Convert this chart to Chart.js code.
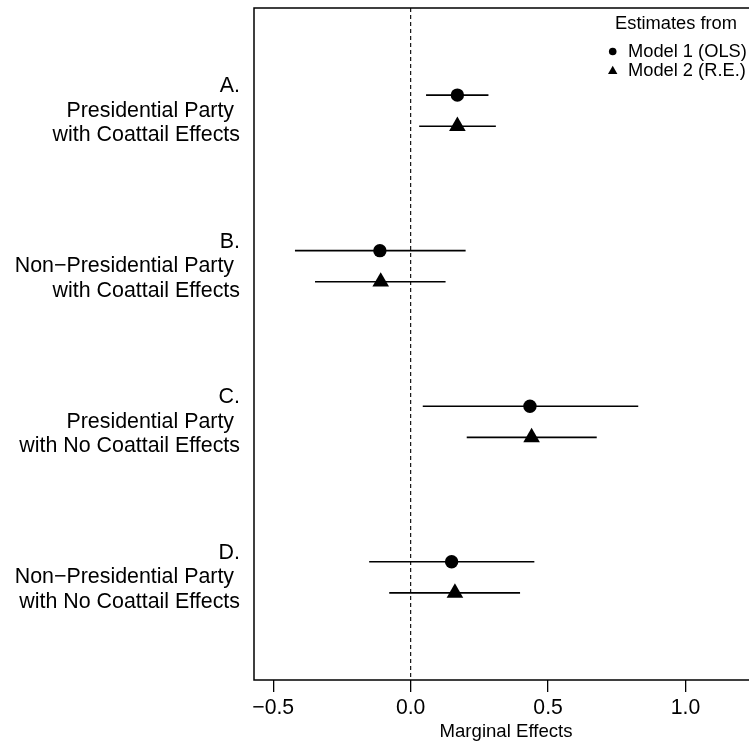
<!DOCTYPE html>
<html>
<head>
<meta charset="utf-8">
<script src="https://cdn.jsdelivr.net/npm/chart.js@4/dist/chart.umd.min.js"></script>
<style>
  html, body { margin: 0; padding: 0; background: #fff; overflow: hidden; }
  canvas { display: block; }
</style>
</head>
<body>
<canvas id="c" width="749" height="748"></canvas>
<script>
// ---- data ----
const groupLabels = [
  ["A.", "Presidential Party ", "with Coattail Effects"],
  ["B.", "Non\u2212Presidential Party ", "with Coattail Effects"],
  ["C.", "Presidential Party ", "with No Coattail Effects"],
  ["D.", "Non\u2212Presidential Party ", "with No Coattail Effects"]
];
const olsEst = [0.170, -0.112, 0.434, 0.149];
const olsLo  = [0.056, -0.421, 0.044, -0.151];
const olsHi  = [0.283, 0.200, 0.828, 0.450];
const reEst  = [0.170, -0.109, 0.440, 0.161];
const reLo   = [0.031, -0.348, 0.204, -0.078];
const reHi   = [0.310, 0.127, 0.677, 0.398];
const xTicks = [-0.5, 0.0, 0.5, 1.0];
const xTickLabels = ["\u22120.5", "0.0", "0.5", "1.0"];
const seriesNames = ["Model 1 (OLS)", "Model 2 (R.E.)"];
const legendTitle = "Estimates from";
const xTitle = "Marginal Effects";

const FONT = "'Liberation Sans', Arial, Helvetica, sans-serif";
const yPos = (i, s) => i + 1 + (s === 0 ? 0 : 0.2);

const datasets = [];
datasets.push({
  type: 'scatter', label: seriesNames[0],
  data: olsEst.map((v, i) => ({x: v, y: yPos(i, 0)})),
  pointStyle: 'circle', pointRadius: 6.7, backgroundColor: '#000', borderColor: '#000', borderWidth: 0
});
datasets.push({
  type: 'scatter', label: seriesNames[1],
  data: reEst.map((v, i) => ({x: v, y: yPos(i, 1)})),
  pointStyle: 'triangle', pointRadius: 9.6, backgroundColor: '#000', borderColor: '#000', borderWidth: 0
});
[[olsLo, olsHi, 0], [reLo, reHi, 1]].forEach(([lo, hi, s]) => {
  lo.forEach((l, i) => {
    datasets.push({
      type: 'line', label: 'ci',
      data: [{x: l, y: yPos(i, s)}, {x: hi[i], y: yPos(i, s)}],
      borderColor: '#000', borderWidth: 1.6, pointRadius: 0, fill: false
    });
  });
});
datasets.push({
  type: 'line', label: 'zero',
  data: [{x: 0, y: 0.44}, {x: 0, y: 4.76}],
  borderColor: '#000', borderWidth: 1.1, borderDash: [4, 3], pointRadius: 0, fill: false
});

const framePlugin = {
  id: 'frame',
  afterDraw(chart) {
    const {ctx, chartArea: a} = chart;
    ctx.save();
    ctx.strokeStyle = '#000';
    ctx.lineWidth = 1.5;
    // box open on the right: the plot region continues past the picture edge
    ctx.beginPath();
    ctx.moveTo(a.right + 20, a.top);
    ctx.lineTo(a.left, a.top);
    ctx.lineTo(a.left, a.bottom);
    ctx.lineTo(a.right + 20, a.bottom);
    ctx.stroke();
    // axis title, centred on the full (clipped) plot region
    ctx.fillStyle = '#000';
    ctx.font = "18.6px " + FONT;
    ctx.textAlign = 'center';
    ctx.textBaseline = 'alphabetic';
    ctx.fillText(xTitle, 506, 736.5);
    // legend
    ctx.font = "18.3px " + FONT;
    ctx.fillText(legendTitle, 676, 29.3);
    ctx.textAlign = 'left';
    ctx.fillText(seriesNames[0], 628, 57.4);
    ctx.fillText(seriesNames[1], 628, 76);
    ctx.beginPath();
    ctx.arc(612.7, 51.5, 3.8, 0, Math.PI * 2);
    ctx.fill();
    const r = 5.4, cx = 612.7, cy = 71.2;
    ctx.beginPath();
    for (let k = 0; k < 3; k++) {
      const ang = k * 2 * Math.PI / 3;
      const px = cx + Math.sin(ang) * r, py = cy - Math.cos(ang) * r;
      if (k === 0) ctx.moveTo(px, py); else ctx.lineTo(px, py);
    }
    ctx.closePath();
    ctx.fill();
    ctx.restore();
  }
};

function zeroPad(s) { s.paddingTop = 0; s.paddingBottom = 0; s.paddingLeft = 0; s.paddingRight = 0; }

new Chart(document.getElementById('c'), {
  data: { datasets },
  options: {
    responsive: false,
    devicePixelRatio: 1,
    animation: false,
    events: [],
    layout: { autoPadding: false, padding: { top: 8, right: 0, left: 0, bottom: 0 } },
    plugins: { legend: { display: false }, tooltip: { enabled: false } },
    scales: {
      x: {
        type: 'linear', position: 'bottom',
        min: -0.570, max: 1.231, bounds: 'data',
        afterBuildTicks: (s) => { s.ticks = xTicks.map(v => ({value: v})); },
        afterFit: (s) => { s.height = 68; zeroPad(s); },
        ticks: {
          autoSkip: false, maxRotation: 0, padding: 3, color: '#000',
          font: { family: FONT, size: 21.2 },
          callback: (v, i) => xTickLabels[i]
        },
        grid: { drawOnChartArea: false, drawTicks: true, tickLength: 12, color: '#000', lineWidth: 1.3 },
        border: { display: false },
        title: { display: false }
      },
      y: {
        type: 'linear', position: 'left', reverse: true,
        min: 0.44, max: 4.76, bounds: 'data',
        afterBuildTicks: (s) => { s.ticks = groupLabels.map((g, i) => ({value: i + 1.1})); },
        afterFit: (s) => { s.width = 254; zeroPad(s); },
        ticks: {
          autoSkip: false, padding: 14, color: '#000',
          font: { family: FONT, size: 21.4, lineHeight: 1.15 },
          callback: (v, i) => groupLabels[i]
        },
        grid: { display: false, drawTicks: false },
        border: { display: false }
      }
    }
  },
  plugins: [framePlugin]
});
</script>
</body>
</html>
